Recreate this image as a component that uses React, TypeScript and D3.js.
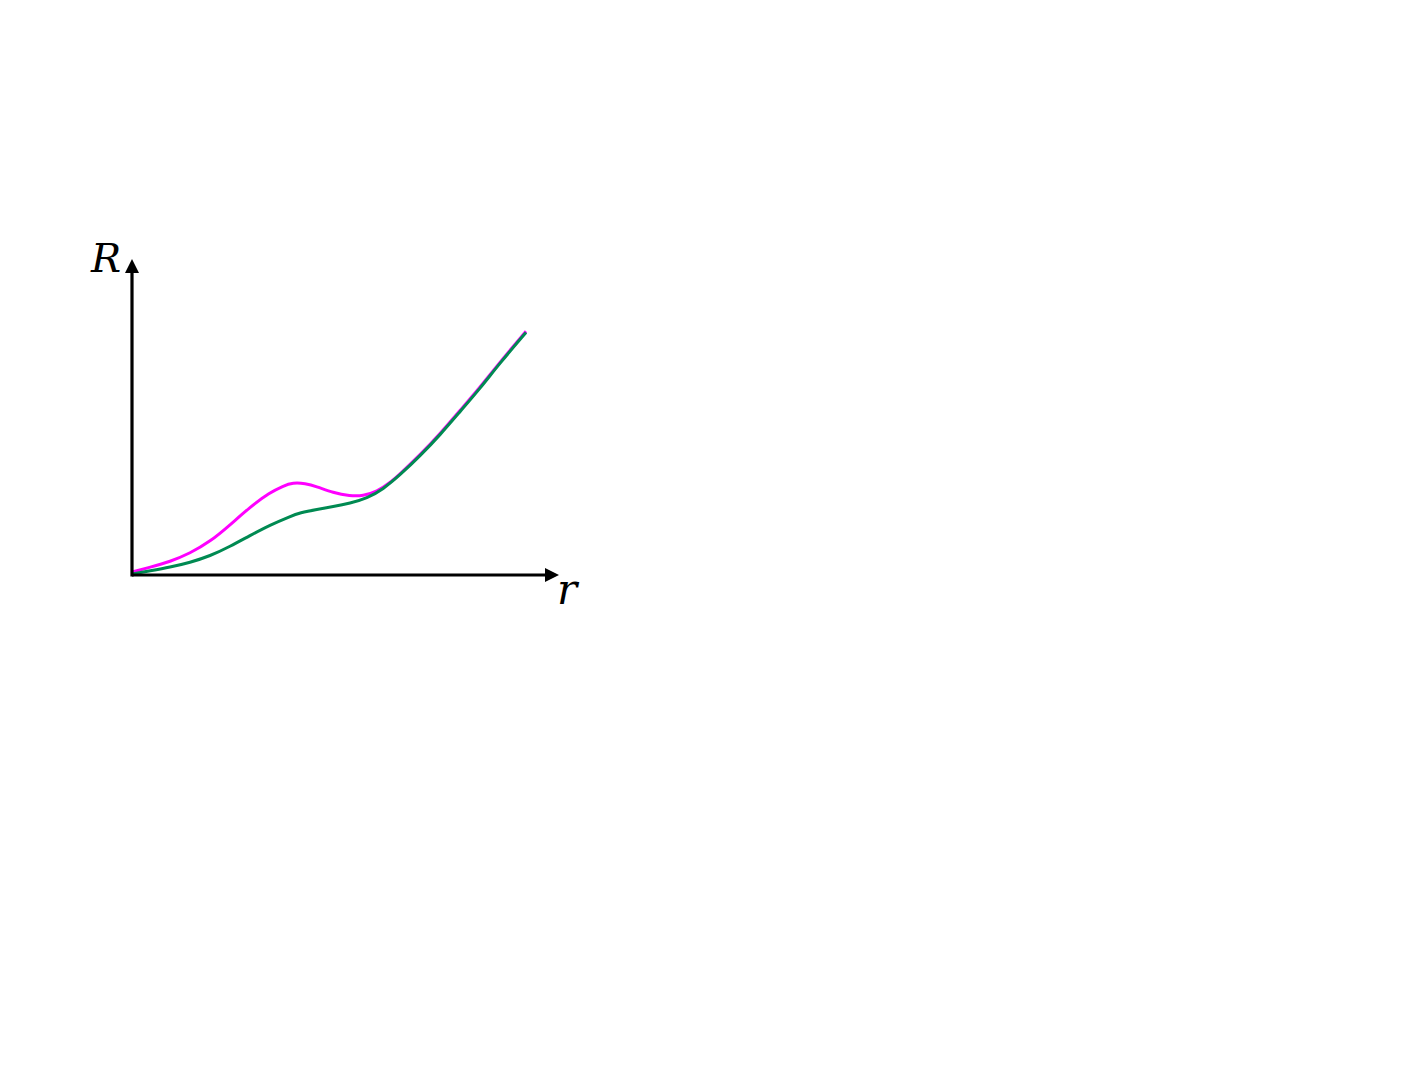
import React from "react";
import * as d3 from "d3";

// r values (horizontal, axis goes 0..10)
const greenR = [0, 0.422, 0.89, 1.358, 1.827, 2.295, 2.763, 3.232, 3.7, 3.934, 4.333, 4.707, 5.105, 5.504, 5.878, 6.276, 6.745, 7.213, 7.681, 8.15, 8.618, 9.227];
const greenVal = [0.032, 0.133, 0.247, 0.396, 0.601, 0.902, 1.25, 1.582, 1.851, 1.972, 2.079, 2.161, 2.269, 2.427, 2.712, 3.165, 3.766, 4.43, 5.168, 5.902, 6.709, 7.674];

const magentaR = [0, 0.422, 0.89, 1.358, 1.827, 2.295, 2.763, 3.232, 3.536, 3.77, 4.052, 4.333, 4.707, 5.105, 5.41, 5.738, 6.042, 6.276, 6.745, 7.213, 7.681, 8.15, 8.618, 9.227];
const magentaVal = [0.095, 0.244, 0.421, 0.687, 1.054, 1.582, 2.152, 2.611, 2.816, 2.924, 2.899, 2.794, 2.604, 2.5, 2.5, 2.636, 2.921, 3.196, 3.797, 4.462, 5.206, 5.94, 6.741, 7.712];

const xDomain = [0, 10];
const yDomain = [0, 10];
const xLabel = "r";
const yLabel = "R";

export default function App() {
  const W = 1423;
  const H = 1067;
  const ox = 132;
  const oy = 575;
  const x = d3.scaleLinear().domain(xDomain).range([ox, 559]);
  const y = d3.scaleLinear().domain(yDomain).range([oy, 259]);

  const line = d3
    .line<[number, number]>()
    .x((d) => x(d[0]))
    .y((d) => y(d[1]))
    .curve(d3.curveBasis);

  const green: [number, number][] = greenR.map((r, i) => [r, greenVal[i]]);
  const magenta: [number, number][] = magentaR.map((r, i) => [r, magentaVal[i]]);

  const xEnd = x(xDomain[1]);
  const yEnd = y(yDomain[1]);
  const ah = 14;
  const aw = 7;
  const labelStyle: React.CSSProperties = {
    fontFamily: "'DejaVu Serif', 'Liberation Serif', serif",
    fontStyle: "italic",
  };

  return (
    <svg
      width={W}
      height={H}
      style={{ position: "absolute", left: 0, top: 0, background: "#fff" }}
    >
      <path d={line(magenta) || ""} fill="none" stroke="#ff00ff" strokeWidth={3} />
      <path d={line(green) || ""} fill="none" stroke="#008a52" strokeWidth={3} />
      {/* axes */}
      <line x1={ox} y1={oy} x2={xEnd - ah + 1} y2={oy} stroke="#000" strokeWidth={3.2} />
      <line x1={ox} y1={oy + 1.6} x2={ox} y2={yEnd + ah - 1} stroke="#000" strokeWidth={3.2} />
      <path
        d={`M${xEnd},${oy} L${xEnd - ah},${oy - aw} L${xEnd - ah},${oy + aw} Z`}
        fill="#000"
      />
      <path
        d={`M${ox},${yEnd} L${ox - aw},${yEnd + ah} L${ox + aw},${yEnd + ah} Z`}
        fill="#000"
      />
      <text x={91} y={272} fontSize={40} fill="#000" style={labelStyle}>
        {yLabel}
      </text>
      <text x={557} y={604} fontSize={42} fill="#000" style={labelStyle}>
        {xLabel}
      </text>
    </svg>
  );
}
